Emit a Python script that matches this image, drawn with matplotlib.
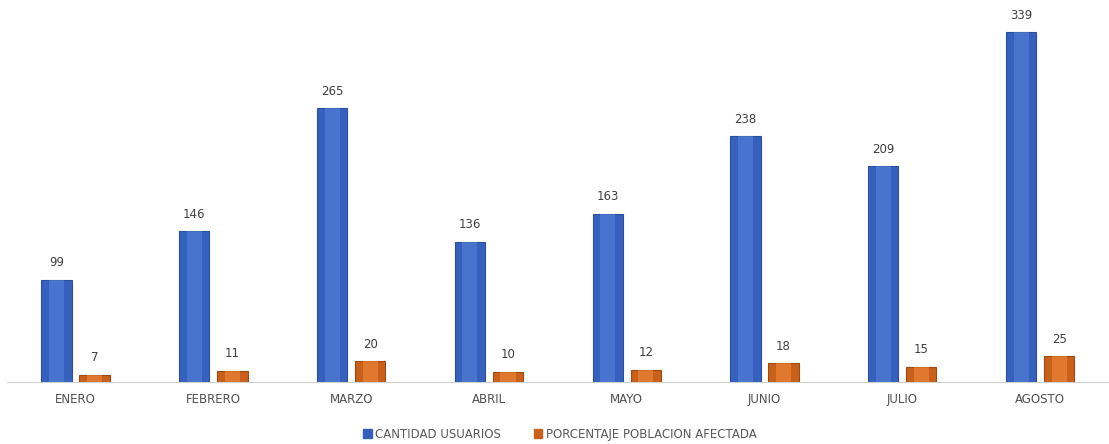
import matplotlib.pyplot as plt
import numpy as np
from matplotlib.patches import Patch

meses = ["ENERO", "FEBRERO", "MARZO", "ABRIL", "MAYO", "JUNIO", "JULIO", "AGOSTO"]
usuarios = [99, 146, 265, 136, 163, 238, 209, 339]
porcentaje = [7, 11, 20, 10, 12, 18, 15, 25]

azul, azul_claro = "#3560BE", "#5A86DA"
naranja, naranja_claro = "#C9601C", "#F08A3C"

fig = plt.figure(figsize=(11.09, 4.44), dpi=100)
ax = fig.add_axes([0.006, 0.1396, 0.994, 0.8604])

x = np.arange(len(meses))
w = 0.22
off = 0.138

# barras con un brillo central para imitar el efecto 3D
ax.bar(x - off, usuarios, w, color=azul, edgecolor="#2B4F9E", linewidth=0.8)
ax.bar(x - off, usuarios, w * 0.5, color=azul_claro, alpha=0.55)
ax.bar(x + off, porcentaje, w, color=naranja, edgecolor="#A04A12", linewidth=0.8)
ax.bar(x + off, porcentaje, w * 0.5, color=naranja_claro, alpha=0.6)

for xi, v in zip(x, usuarios):
    ax.text(xi - off, v + 10, str(v), ha="center", va="bottom", fontsize=8.5, color="#404040")
for xi, v in zip(x, porcentaje):
    ax.text(xi + off, v + 10, str(v), ha="center", va="bottom", fontsize=8.5, color="#404040")

ax.set_xlim(-0.5, 7.5)
ax.set_ylim(0, 370)
ax.set_xticks(x)
ax.set_xticklabels(meses, fontsize=8.5, color="#505050")
ax.tick_params(axis="x", length=0, pad=8)
ax.set_yticks([])
for s in ["top", "left", "right"]:
    ax.spines[s].set_visible(False)
ax.spines["bottom"].set_color("#D0D0D0")

handles = [Patch(color=azul, label="CANTIDAD USUARIOS"),
           Patch(color=naranja, label="PORCENTAJE POBLACION AFECTADA")]
leg = fig.legend(handles=handles, loc="center", bbox_to_anchor=(0.505, 0.022), ncol=2,
                 frameon=False, fontsize=8.5, handlelength=0.7, handleheight=0.7,
                 columnspacing=2.8, handletextpad=0.3)
for t in leg.get_texts():
    t.set_color("#595959")

fig.savefig("out.png", dpi=100)
